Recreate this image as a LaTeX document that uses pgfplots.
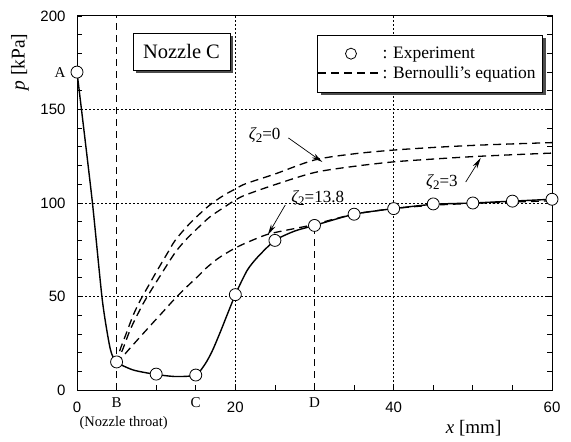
\documentclass[border=0pt]{standalone}
\usepackage{fontspec}
\setmainfont{Liberation Serif}
\newfontfamily\numfont{Liberation Sans}
\usepackage{pgfplots}
\pgfplotsset{compat=1.18}
\usetikzlibrary{arrows.meta}
\newcommand{\fs}[1]{\fontsize{#1}{#1}\selectfont}
\newcommand{\zl}[1]{{\itshape ζ}\raisebox{-0.35ex}{\fs{13}2}=#1}

\pgfplotstableread{
x y
0 170
5 15
10 8.5
15 8
20 51
25 80
30 88
35 94
40 97
45 99.5
50 100
55 101
60 102
}\expdata

\pgfplotstableread{
x y
0 170
1.9 102
3.2 48
4.2 22
5 15
7.1 10.7
10 8.3
12.5 7.2
15 8
16.2 14
17.1 21
18.1 31
20 51
21.5 64
22.8 71
25 80
27.5 85
30 88
35 94
40 97
45 99.3
50 100
55 101
60 102
}\expline

\pgfplotstableread{
x y
5 14
5.4 21
6.2 30
7.1 40
8 48
9.2 57
10 63
11.4 73
12.4 80
13.9 87.5
15.2 93
16.8 99
18.5 104
20 107.5
21.3 110.3
25 115.5
30 123
35 126.3
40 128.3
45 129.7
50 130.8
55 131.6
60 132.3
}\zetazero

\pgfplotstableread{
x y
5 14
5.8 22
6.7 32
7.6 40
8.6 48
10.5 61
12.4 73.5
13.9 81
15.6 88
16.8 92.6
18.5 97.5
20 101.6
21.3 104.3
25 109.8
30 116.3
35 119.6
40 122
45 123.5
50 124.8
55 125.8
60 126.7
}\zetathree

\pgfplotstableread{
x y
5 14
6.5 21.4
8 28.5
9.6 36
10.9 42
12.4 49
13.7 54.5
15.2 60.5
16.4 65.5
17.9 70.6
19.6 75
21 78
23.5 82.4
25 84.2
29.1 87.7
30 88.6
35 94
40 97
45 98.8
50 99.8
55 100.5
60 101.2
}\zetafourteen

\begin{document}
\begin{tikzpicture}
\begin{axis}[
  scale only axis, width=475pt, height=374pt,
  xmin=0, xmax=60, ymin=0, ymax=200,
  clip=false,
  axis line style={line width=1pt},
  xtick={0,20,40,60}, xticklabels={0,20,40,60},
  minor xtick={5,10,15,25,30,35,45,50,55},
  ytick={0,50,100,150,200}, yticklabels={0,50,100,150,200},
  minor ytick={10,20,30,40,60,70,80,90,110,120,130,140,160,170,180,190},
  xtick pos=bottom, ytick pos=both,
  tick align=inside,
  major tick length=5pt, minor tick length=5pt,
  tick style={line width=0.8pt, black},
  tick label style={font=\numfont\fs{15}},
  xticklabel style={yshift=-8pt},
  yticklabel style={xshift=-8pt},
  legend style={at={(0.738,0.873)}, anchor=center, draw=none, fill=none,
    font=\fs{17.5}, row sep=2pt, inner xsep=3pt, inner ysep=3pt},
  legend cell align=left,
]
\addlegendimage{legend image code/.code={\path[draw=none] (0pt,0) -- (62pt,0); \draw[draw=black, fill=white, line width=0.8pt] (33pt,0) circle (5.5pt);}}
\addlegendentry{: Experiment}
\addlegendimage{legend image code/.code={\draw[draw=black, line width=1.1pt, dash pattern=on 8pt off 5pt] (0pt,0) -- (62pt,0);}}
\addlegendentry{: Bernoulli's equation}

% grid lines
\draw[line width=0.9pt, dash pattern=on 2pt off 2pt] (axis cs:0,50) -- (axis cs:60,50);
\draw[line width=0.9pt, dash pattern=on 2pt off 2pt] (axis cs:0,100) -- (axis cs:60,100);
\draw[line width=0.9pt, dash pattern=on 2pt off 2pt] (axis cs:0,150) -- (axis cs:60,150);
\draw[line width=0.8pt, dash pattern=on 7pt off 5pt] (axis cs:5,0) -- (axis cs:5,200);
\draw[line width=0.9pt, dash pattern=on 2pt off 2pt] (axis cs:20,0) -- (axis cs:20,200);
\draw[line width=0.8pt, dash pattern=on 7pt off 5pt] (axis cs:30,0) -- (axis cs:30,88);
\draw[line width=0.9pt, dash pattern=on 2pt off 2pt] (axis cs:40,0) -- (axis cs:40,200);

% legend box with shadow
\node[fill=black!70, minimum width=225pt, minimum height=57pt, inner sep=0pt]
  at (axis cs:44.6,174.5) [xshift=3pt, yshift=-3pt] {};
\node[draw, line width=0.9pt, fill=white, minimum width=225pt, minimum height=57pt, inner sep=0pt]
  at (axis cs:44.6,174.5) {};

% Bernoulli curves
\addplot[forget plot, smooth, line width=1.3pt, dash pattern=on 8pt off 5pt] table {\zetazero};
\addplot[forget plot, smooth, line width=1.3pt, dash pattern=on 8pt off 5pt] table {\zetathree};
\addplot[forget plot, smooth, line width=1.3pt, dash pattern=on 8pt off 5pt] table {\zetafourteen};

% experiment
\addplot[forget plot, smooth, tension=0.4, line width=1.4pt] table {\expline};
\addplot[forget plot, only marks, mark=*, mark size=6pt, mark options={fill=white, draw=black, line width=0.8pt}] table {\expdata};

% Nozzle C box with shadow
\node[fill=black!70, minimum width=97pt, minimum height=37pt, inner sep=0pt]
  at (axis cs:13.2,181) [xshift=3pt, yshift=-3pt] {};
\node[draw, line width=0.9pt, fill=white, minimum width=97pt, minimum height=37pt, inner sep=0pt,
  font=\fs{20.5}] at (axis cs:13.2,181) {Nozzle C};

\node[font=\fs{17}] at (axis cs:23.7,136.4) {\zl{0}};
\draw[-{Stealth[length=11pt,width=5pt]}, line width=0.7pt] (axis cs:26.7,134.8) -- (axis cs:31.0,121.9);
\node[font=\fs{17}] at (axis cs:46.1,111.2) {\zl{3}};
\draw[-{Stealth[length=11pt,width=5pt]}, line width=0.7pt] (axis cs:49.1,111.2) -- (axis cs:51.0,124.1);
\node[font=\fs{17}] at (axis cs:30.4,102.7) {\zl{13.8}};
\draw[-{Stealth[length=11pt,width=5pt]}, line width=0.7pt] (axis cs:26.3,98.9) -- (axis cs:24.1,82.9);

\node[font=\fs{15}] at (axis cs:0,170) [xshift=-17pt] {A};
\node[font=\fs{15}] at (axis cs:5,0) [yshift=-13pt] {B};
\node[font=\fs{15}] at (axis cs:15,0) [yshift=-13pt] {C};
\node[font=\fs{15}] at (axis cs:30,0) [yshift=-13pt] {D};
\node[font=\fs{14.5}] at (axis cs:5.9,0) [yshift=-33pt] {(Nozzle throat)};

\node[font=\fs{19.5}, rotate=90] at (axis cs:-7.2,175.4) {\textit{p} [kPa]};
\node[font=\fs{19}] at (axis cs:50.1,-20.3) {\textit{x} [mm]};
\end{axis}
\pgfresetboundingbox
\path[use as bounding box] ([xshift=-77pt,yshift=-51pt]current axis.south west) rectangle ([xshift=19pt,yshift=16pt]current axis.north east);
\end{tikzpicture}
\end{document}
